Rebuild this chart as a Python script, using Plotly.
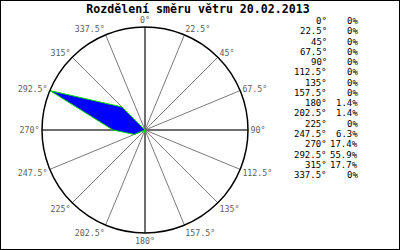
import plotly.graph_objects as go

title = "Rozdělení směru větru 20.02.2013"
directions = [0, 22.5, 45, 67.5, 90, 112.5, 135, 157.5, 180, 202.5, 225, 247.5, 270, 292.5, 315, 337.5]
percents = [0, 0, 0, 0, 0, 0, 0, 0, 1.4, 1.4, 0, 6.3, 17.4, 55.9, 17.7, 0]
cardinals = [0, 90, 180, 270]


def fmt_dir(d):
    return (f"{d:g}") + "°"


def fmt_pct(p):
    return f"{p:g}%"


rmax = max(percents)
mono = "DejaVu Sans Mono"

fig = go.Figure()

# thicker cardinal spokes
for c in cardinals:
    fig.add_trace(go.Scatterpolar(
        r=[0, rmax], theta=[c, c], mode="lines",
        line=dict(color="#6e6e6e", width=2), hoverinfo="skip", showlegend=False))

# wind distribution polygon
fig.add_trace(go.Scatterpolar(
    r=percents + [percents[0]], theta=directions + [directions[0]],
    mode="lines", fill="toself", fillcolor="#0000ff",
    line=dict(color="#00e000", width=1), showlegend=False))

fig.update_layout(
    width=400, height=250, autosize=False,
    margin=dict(l=0, r=0, t=0, b=0),
    paper_bgcolor="white", plot_bgcolor="white",
    title=dict(text="<b>" + title + "</b>", x=0.495, xanchor="center",
               y=1 - 8.5 / 250, yanchor="middle", yref="container",
               font=dict(family=mono, size=11.6, color="black")),
    polar=dict(
        domain=dict(x=[42 / 400, 248 / 400], y=[17 / 250, 223 / 250]),
        bgcolor="white",
        radialaxis=dict(visible=False, range=[0, rmax]),
        angularaxis=dict(
            rotation=90, direction="clockwise",
            tickmode="array", tickvals=directions,
            ticktext=[fmt_dir(d) for d in directions],
            tickfont=dict(family=mono, size=8.3, color="#606060"),
            ticks="", showgrid=True, gridcolor="#7a7a7a", gridwidth=1,
            showline=True, linecolor="black", linewidth=1.5,
        ),
    ),
    shapes=[dict(type="rect", xref="paper", yref="paper", x0=0, x1=1, y0=0, y1=1,
                 line=dict(color="black", width=2))],
)

row_top = 21
row_step = 10.27
for i, (d, p) in enumerate(zip(directions, percents)):
    yy = 1 - (row_top + i * row_step) / 250
    fig.add_annotation(x=327 / 400, y=yy, xref="paper", yref="paper",
                       text=fmt_dir(d), showarrow=False, xanchor="right", yanchor="middle",
                       xshift=1.5, font=dict(family=mono, size=9, color="black"))
    fig.add_annotation(x=358 / 400, y=yy, xref="paper", yref="paper",
                       text=fmt_pct(p), showarrow=False, xanchor="right", yanchor="middle",
                       xshift=1.5, font=dict(family=mono, size=9, color="black"))

fig.write_html("out.html")
